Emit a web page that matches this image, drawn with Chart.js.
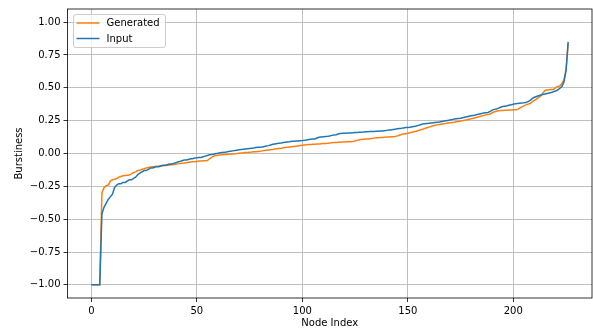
<!DOCTYPE html>
<html>
<head>
<meta charset="utf-8">
<script src="https://cdn.jsdelivr.net/npm/chart.js@4.4.1/dist/chart.umd.min.js"></script>
<style>
html,body{margin:0;padding:0;background:#fff;}
#wrap{width:593px;height:329px;}
</style>
</head>
<body>
<div id="wrap"><canvas id="c" width="593" height="329"></canvas></div>
<script>
const seriesNames = ['Generated', 'Input'];
const seriesColors = ['#ff7f0e', '#1f77b4'];

const generated = [
-1.00,-1.00,-1.00,-1.00,-1.00,-0.30,-0.26,-0.245,-0.24,-0.21,
-0.20,-0.196,-0.19,-0.18,-0.175,-0.17,-0.168,-0.166,-0.164,-0.155,
-0.145,-0.14,-0.13,-0.128,-0.12,-0.116,-0.11,-0.106,-0.103,-0.10,
-0.098,-0.097,-0.096,-0.094,-0.093,-0.091,-0.089,-0.087,-0.085,-0.083,
-0.081,-0.079,-0.077,-0.075,-0.073,-0.07,-0.067,-0.065,-0.063,-0.062,
-0.06,-0.058,-0.057,-0.056,-0.055,-0.053,-0.04,-0.03,-0.02,-0.015,
-0.013,-0.011,-0.009,-0.008,-0.007,-0.005,-0.004,-0.003,-0.001,0.0,
0.002,0.004,0.005,0.007,0.008,0.01,0.011,0.013,0.014,0.016,
0.018,0.02,0.022,0.025,0.027,0.029,0.031,0.034,0.036,0.038,
0.04,0.043,0.045,0.047,0.05,0.052,0.054,0.056,0.058,0.06,
0.062,0.064,0.066,0.068,0.069,0.07,0.071,0.072,0.073,0.075,
0.076,0.077,0.078,0.08,0.081,0.083,0.084,0.085,0.086,0.087,
0.088,0.089,0.09,0.09,0.091,0.095,0.10,0.104,0.107,0.109,
0.11,0.111,0.113,0.115,0.117,0.119,0.12,0.121,0.122,0.124,
0.125,0.126,0.127,0.128,0.13,0.134,0.139,0.144,0.148,0.151,
0.154,0.158,0.162,0.166,0.17,0.175,0.179,0.184,0.19,0.196,
0.201,0.206,0.211,0.215,0.218,0.221,0.224,0.227,0.229,0.232,
0.234,0.236,0.238,0.241,0.244,0.247,0.25,0.254,0.257,0.261,
0.265,0.268,0.272,0.276,0.281,0.285,0.29,0.294,0.296,0.30,
0.31,0.318,0.322,0.325,0.327,0.328,0.329,0.33,0.331,0.332,
0.333,0.333,0.335,0.345,0.355,0.363,0.37,0.376,0.38,0.395,
0.405,0.415,0.425,0.438,0.46,0.48,0.483,0.485,0.487,0.488,
0.50,0.51,0.513,0.53,0.56,0.64,0.84
];

const input = [
-1.00,-1.00,-1.00,-1.00,-1.00,-0.46,-0.41,-0.38,-0.35,-0.33,
-0.31,-0.26,-0.24,-0.23,-0.23,-0.22,-0.22,-0.21,-0.20,-0.20,
-0.19,-0.18,-0.16,-0.15,-0.14,-0.13,-0.13,-0.12,-0.11,-0.11,
-0.105,-0.10,-0.10,-0.095,-0.09,-0.09,-0.085,-0.08,-0.08,-0.075,
-0.07,-0.065,-0.06,-0.055,-0.05,-0.05,-0.045,-0.04,-0.04,-0.035,
-0.033,-0.03,-0.03,-0.025,-0.02,-0.015,-0.01,-0.008,-0.005,0.0,
0.002,0.005,0.008,0.01,0.012,0.015,0.018,0.02,0.022,0.025,
0.028,0.03,0.032,0.034,0.036,0.038,0.04,0.042,0.045,0.047,
0.048,0.05,0.054,0.057,0.06,0.065,0.07,0.073,0.076,0.078,
0.08,0.083,0.086,0.088,0.09,0.093,0.094,0.095,0.096,0.097,
0.098,0.10,0.103,0.106,0.108,0.11,0.111,0.118,0.123,0.125,
0.127,0.129,0.131,0.134,0.138,0.141,0.143,0.148,0.153,0.154,
0.155,0.156,0.157,0.157,0.158,0.159,0.16,0.161,0.162,0.163,
0.165,0.166,0.167,0.168,0.168,0.169,0.17,0.171,0.172,0.174,
0.176,0.178,0.179,0.182,0.185,0.188,0.19,0.192,0.195,0.197,
0.198,0.20,0.203,0.206,0.209,0.214,0.219,0.224,0.226,0.228,
0.23,0.232,0.234,0.236,0.238,0.24,0.243,0.246,0.249,0.252,
0.255,0.258,0.262,0.264,0.266,0.268,0.272,0.276,0.28,0.284,
0.287,0.29,0.293,0.297,0.301,0.305,0.308,0.31,0.312,0.32,
0.33,0.336,0.338,0.345,0.352,0.357,0.36,0.363,0.367,0.371,
0.375,0.378,0.381,0.383,0.385,0.386,0.388,0.395,0.405,0.42,
0.428,0.434,0.44,0.445,0.449,0.453,0.457,0.461,0.465,0.47,
0.476,0.483,0.495,0.51,0.545,0.63,0.85
];

const nodeIndex = Array.from({length: input.length}, (_, i) => i);

const xTicks = [0, 50, 100, 150, 200];
const xTickLabels = ['0', '50', '100', '150', '200'];
const yTicks = [-1.00, -0.75, -0.50, -0.25, 0.00, 0.25, 0.50, 0.75, 1.00];
const yTickLabels = ['\u22121.00', '\u22120.75', '\u22120.50', '\u22120.25', '0.00', '0.25', '0.50', '0.75', '1.00'];

const FONT = 'DejaVu Sans';
Chart.defaults.font.family = FONT;
Chart.defaults.font.size = 10;
Chart.defaults.color = '#000';

const frameLegend = {
  id: 'frameLegend',
  afterDatasetsDraw(chart) {
    const {ctx, chartArea: a} = chart;
    ctx.save();
    ctx.strokeStyle = '#000';
    ctx.lineWidth = 0.8;
    ctx.strokeRect(a.left, a.top, a.right - a.left, a.bottom - a.top);
    ctx.restore();
  },
  afterDraw(chart) {
    const {ctx, chartArea: a} = chart;
    const bx = a.left + 6, by = a.top + 5.5, bw = 92, bh = 33;
    ctx.save();
    ctx.beginPath();
    ctx.roundRect(bx, by, bw, bh, 2.5);
    ctx.fillStyle = 'rgba(255,255,255,0.8)';
    ctx.fill();
    ctx.strokeStyle = '#cccccc';
    ctx.lineWidth = 1;
    ctx.stroke();
    ctx.font = '10px "' + FONT + '"';
    ctx.textBaseline = 'middle';
    ctx.fillStyle = '#000';
    chart.data.datasets.forEach((ds, i) => {
      const y = by + 8.5 + i * 15.5;
      ctx.beginPath();
      ctx.moveTo(bx + 3, y);
      ctx.lineTo(bx + 26, y);
      ctx.strokeStyle = ds.borderColor;
      ctx.lineWidth = 1.5;
      ctx.stroke();
      ctx.fillText(ds.label, bx + 33, y + 0.5);
    });
    ctx.restore();
  }
};

new Chart(document.getElementById('c'), {
  type: 'line',
  data: {
    datasets: [
      {label: seriesNames[0], data: nodeIndex.map((x, i) => ({x, y: generated[i]})),
       borderColor: seriesColors[0], backgroundColor: seriesColors[0], borderWidth: 1.5,
       pointRadius: 0, tension: 0, fill: false, order: 1},
      {label: seriesNames[1], data: nodeIndex.map((x, i) => ({x, y: input[i]})),
       borderColor: seriesColors[1], backgroundColor: seriesColors[1], borderWidth: 1.5,
       pointRadius: 0, tension: 0, fill: false, order: 0}
    ]
  },
  options: {
    responsive: false,
    animation: false,
    events: [],
    layout: {padding: {top: 7, right: 1, left: 0, bottom: 0}},
    plugins: {legend: {display: false}, tooltip: {enabled: false}},
    scales: {
      x: {
        type: 'linear',
        min: -11.3, max: 237.3,
        afterBuildTicks: s => { s.ticks = xTicks.map(v => ({value: v})); },
        afterFit: s => { s.height = 31; },
        ticks: {padding: 3, maxRotation: 0, autoSkip: false,
                callback: (v) => { const k = xTicks.indexOf(v); return k >= 0 ? xTickLabels[k] : ''; }},
        grid: {color: '#b0b0b0', lineWidth: 0.8, tickLength: 4, tickColor: '#000', tickWidth: 0.8, drawTicks: true},
        border: {display: false},
        title: {display: true, text: 'Node Index', padding: {top: 0, bottom: 0}, font: {size: 10}}
      },
      y: {
        type: 'linear',
        min: -1.1, max: 1.1,
        afterBuildTicks: s => { s.ticks = yTicks.map(v => ({value: v})); },
        afterFit: s => { s.width = 67.5; },
        ticks: {padding: 3, autoSkip: false,
                callback: (v) => { const k = yTicks.findIndex(t => Math.abs(t - v) < 1e-9); return k >= 0 ? yTickLabels[k] : ''; }},
        grid: {color: '#b0b0b0', lineWidth: 0.8, tickLength: 4, tickColor: '#000', tickWidth: 0.8, drawTicks: true},
        border: {display: false},
        title: {display: true, text: 'Burstiness', padding: {top: 13, bottom: 0}, font: {size: 10}}
      }
    }
  },
  plugins: [frameLegend]
});
</script>
</body>
</html>
